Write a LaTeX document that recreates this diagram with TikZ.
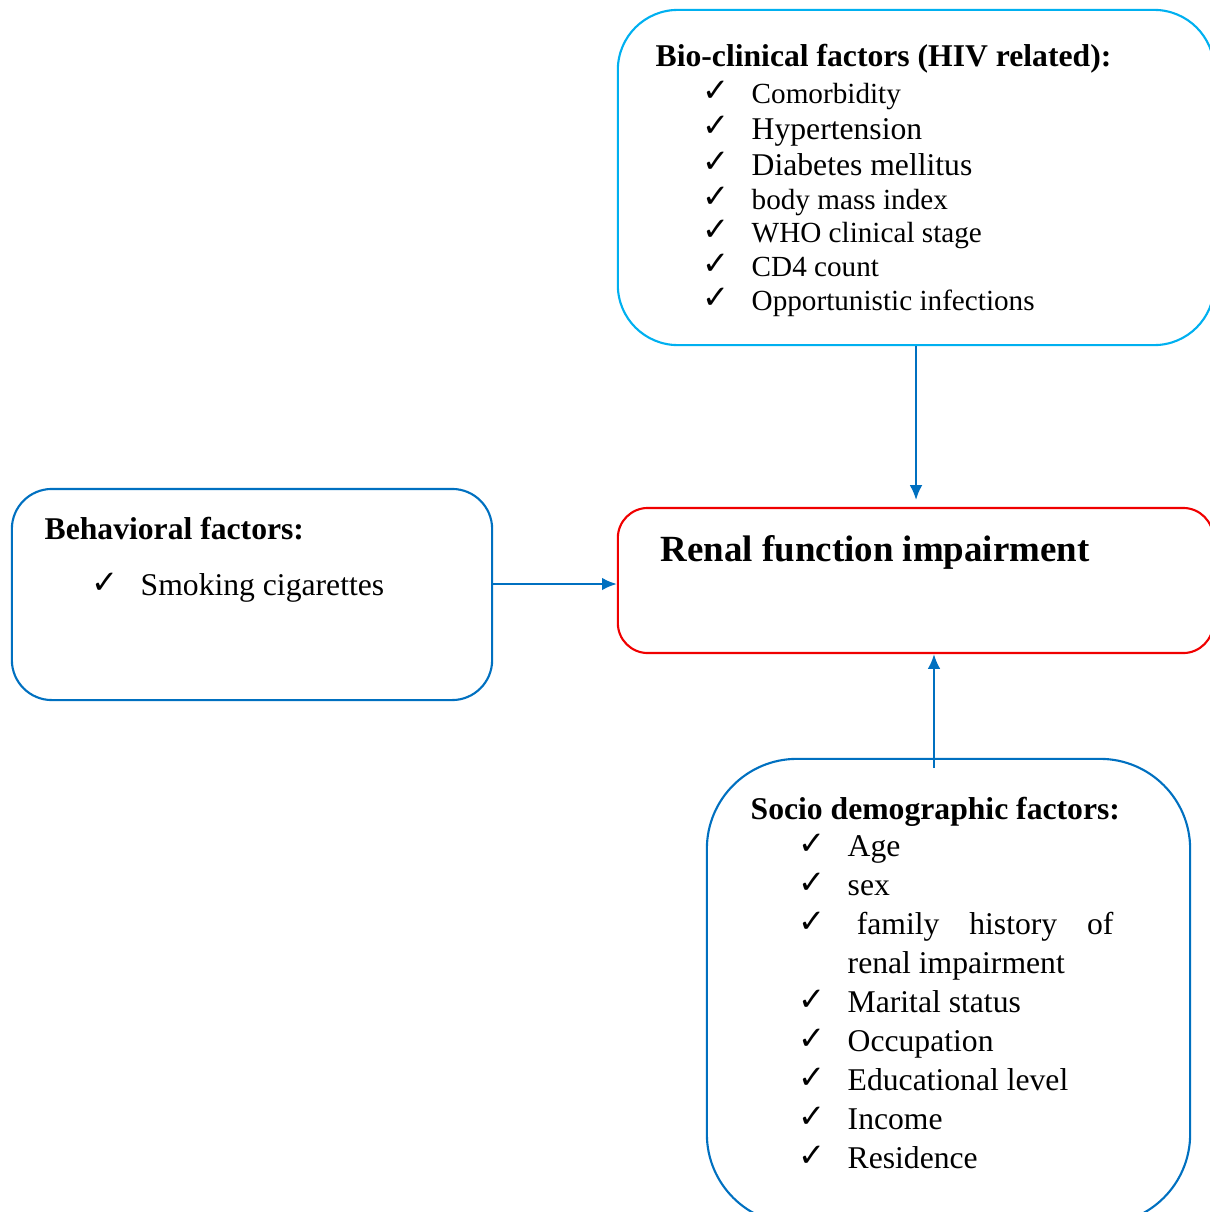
\documentclass[tikz,border=0pt]{standalone}
\usepackage{fontspec}
\setmainfont{Liberation Serif}
\newfontfamily\tickfont{DejaVu Sans}
\usepackage{tikz}
\usetikzlibrary{shapes,arrows.meta,calc,positioning}
\definecolor{bioblue}{RGB}{0,176,240}
\definecolor{boxblue}{RGB}{0,112,192}
\definecolor{boxred}{RGB}{240,0,0}
\newcommand{\tick}{{\tickfont\fontsize{9.2}{10}\selectfont ✓}}
\tikzset{
  factorbox/.style={draw=boxblue, line width=0.6pt, inner sep=0pt},
  headtext/.style={anchor=base west, inner sep=0pt, font=\fontsize{9}{11}\selectfont\bfseries},
  itemtext/.style={anchor=base west, inner sep=0pt, font=\fontsize{9}{11}\selectfont},
  bioitem/.style={itemtext, font=\fontsize{8.3}{10}\selectfont},
  tickmark/.style={anchor=base west, inner sep=0pt},
  link/.style={draw=boxblue, line width=0.6pt, -{Latex[length=4.2pt,width=3.6pt]}}
}
\begin{document}
\begin{tikzpicture}[x=0.01cm, y=-0.01cm]
   \useasboundingbox (0,0) rectangle (1210,1212);
   \clip (0,0) rectangle (1210,1212);
   % boxes
   \node[factorbox, draw=bioblue, rounded corners=0.6cm, minimum width=5.96cm, minimum height=3.35cm] (bio) at (916,177.5) {};
   \node[factorbox, draw=boxred, rounded corners=0.3cm, minimum width=5.95cm, minimum height=1.45cm] (renal) at (915.5,580.5) {};
   \node[factorbox, rounded corners=0.4cm, minimum width=4.8cm, minimum height=2.11cm] (behav) at (252,594.5) {};
   \node[factorbox, rounded corners=0.9cm, minimum width=4.83cm, minimum height=4.65cm] (socio) at (948.5,991.5) {};
   % bio-clinical
   \node[headtext] (bhead) at (655,66) {Bio-clinical factors (HIV related):};
   \node[tickmark] (bt1) at (702,101) {\tick};
   \node[bioitem] (b1) at (751,103) {Comorbidity};
   \node[tickmark] (bt2) at (702,136) {\tick};
   \node[itemtext] (b2) at (751,139) {Hypertension};
   \node[tickmark] (bt3) at (702,172) {\tick};
   \node[itemtext] (b3) at (751,175) {Diabetes mellitus};
   \node[tickmark] (bt4) at (702,207) {\tick};
   \node[bioitem] (b4) at (751,209) {body mass index};
   \node[tickmark] (bt5) at (702,240) {\tick};
   \node[bioitem] (b5) at (751,242) {WHO clinical stage};
   \node[tickmark] (bt6) at (702,274) {\tick};
   \node[bioitem] (b6) at (751,276) {CD4 count};
   \node[tickmark] (bt7) at (702,308) {\tick};
   \node[bioitem] (b7) at (751,310) {Opportunistic infections};
   % outcome
   \node[headtext, font=\fontsize{10.5}{12}\selectfont\bfseries] (rhead) at (660,561) {Renal function impairment};
   % behavioral
   \node[headtext] (hhead) at (44,539) {Behavioral factors:};
   \node[tickmark] (ht1) at (91,593) {\tick};
   \node[itemtext] (h1) at (140,595) {Smoking cigarettes};
   % socio demographic
   \node[headtext] (shead) at (750,819) {Socio demographic factors:};
   \node[tickmark] (st1) at (798,854) {\tick};
   \node[itemtext] (s1) at (847,856) {Age};
   \node[tickmark] (st2) at (798,893) {\tick};
   \node[itemtext] (s2) at (847,895) {sex};
   \node[tickmark] (st3) at (798,932) {\tick};
   \node[itemtext] (s3) at (847,934) {\hspace{2.6pt}family\hspace{8.5pt}history\hspace{8.5pt}of};
   \node[itemtext] (s3b) at (847,973) {renal impairment};
   \node[tickmark] (st4) at (798,1010) {\tick};
   \node[itemtext] (s4) at (847,1012) {Marital status};
   \node[tickmark] (st5) at (798,1049) {\tick};
   \node[itemtext] (s5) at (847,1051) {Occupation};
   \node[tickmark] (st6) at (798,1088) {\tick};
   \node[itemtext] (s6) at (847,1090) {Educational level};
   \node[tickmark] (st7) at (798,1127) {\tick};
   \node[itemtext] (s7) at (847,1129) {Income};
   \node[tickmark] (st8) at (798,1166) {\tick};
   \node[itemtext] (s8) at (847,1168) {Residence};
   % arrows
   \coordinate (bioend) at (916,500);
   \coordinate (behavout) at (492,584);
   \coordinate (sociostart) at (934,768);
   \draw[link] (bio.south) -- (bioend);
   \draw[link] (behavout) -- (behavout -| renal.west);
   \draw[link] (sociostart) -- (sociostart |- renal.south);
\end{tikzpicture}
\end{document}
